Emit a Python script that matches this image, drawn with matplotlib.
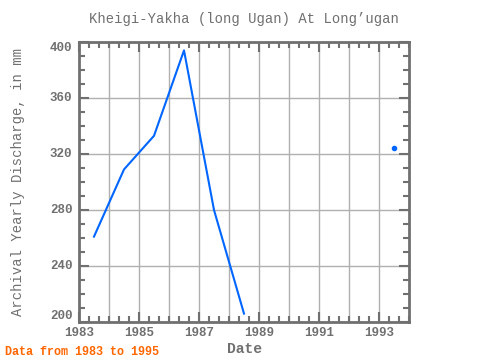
import matplotlib
matplotlib.use("Agg")
import matplotlib.pyplot as plt
import numpy as np
from matplotlib.ticker import MultipleLocator

# yearly values, plotted at mid-year; None = missing
years = [1983, 1984, 1985, 1986, 1987, 1988, 1989, 1990, 1991, 1992, 1993]
discharge = [261, 309, 333, 394, 280, 206, None, None, None, None, 324]

x = np.array(years) + 0.5
y = np.array([np.nan if v is None else v for v in discharge], dtype=float)

gray = "#707070"
plt.rcParams['font.family'] = ['Liberation Mono', 'DejaVu Sans Mono']

fig = plt.figure(figsize=(4.8, 3.6), dpi=100)
ax = fig.add_axes([79 / 480, 1 - 322 / 360, 330 / 480, 280 / 360])

ax.plot(x, y, color="#0066ff", lw=1.5)
# isolated points get a dot
for i in range(len(y)):
    prev_nan = i == 0 or np.isnan(y[i - 1])
    next_nan = i == len(y) - 1 or np.isnan(y[i + 1])
    if not np.isnan(y[i]) and prev_nan and next_nan:
        ax.plot(x[i], y[i], "o", color="#0066ff", ms=3)

ax.set_xlim(1983, 1994)
ax.set_ylim(200, 400)
yt = [200, 240, 280, 320, 360, 400]
ax.set_yticks(yt)
ax.yaxis.set_minor_locator(MultipleLocator(10))
ax.set_xticks([1983, 1985, 1987, 1989, 1991, 1993], minor=False)
ax.set_xticks(np.arange(1983, 1994.01, 1 / 3), minor=True)
ax.grid(True, which="major", axis="y", color="#b0b0b0", lw=1)
for yr in range(1984, 1994):
    ax.axvline(yr, color="#b0b0b0", lw=1, zorder=0)

ax.tick_params(which="both", direction="in", top=True, right=True,
               color=gray, labelcolor=gray, labelsize=9, width=1.5)
ax.tick_params(which="major", length=7)
ax.tick_params(which="minor", length=4)
ax.tick_params(axis="y", labelleft=False)
# y tick labels drawn by hand so the end ones sit inside the frame
for v in yt:
    va = "bottom" if v == 200 else ("top" if v == 400 else "center")
    ax.text(-0.02, v, str(v), transform=ax.get_yaxis_transform(), ha="right",
            va=va, color=gray, fontsize=9, fontweight="bold")
for lab in ax.get_xticklabels():
    lab.set_fontweight("bold")
for s in ax.spines.values():
    s.set_color(gray)
    s.set_linewidth(2)

ax.set_title("Kheigi-Yakha (long Ugan) At Long\u2019ugan", color=gray,
             fontsize=10, pad=14)
ax.set_xlabel("Date", color=gray, fontsize=10.5, fontweight="bold", labelpad=2)
ax.set_ylabel("Archival Yearly Discharge, in mm", color=gray, fontsize=10)
ax.yaxis.set_label_coords(-0.163, 0.5)
fig.text(5 / 480, 1 - 352 / 360, "Data from 1983 to 1995", color="#ff6600",
         fontsize=8.5, fontweight="bold", va="center")

fig.savefig("out.png", dpi=100)
